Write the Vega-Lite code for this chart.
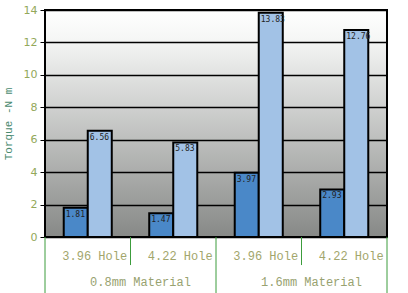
{
  "$schema": "https://vega.github.io/schema/vega-lite/v6.json",
  "width": 342,
  "height": 227,
  "autosize": {"type": "none"},
  "padding": {"left": 45, "top": 10, "right": 21, "bottom": 56},
  "background": "white",
  "view": {
    "fill": {"expr": "{gradient: 'linear', x1: 0, y1: 0, x2: 0, y2: 1, stops: [{offset: 0, color: '#ffffff'}, {offset: 0.12, color: '#f6f7f6'}, {offset: 1, color: '#878987'}]}"},
    "stroke": "black",
    "strokeWidth": 2
  },
  "config": {
    "axisY": {
      "values": [0, 2, 4, 6, 8, 10, 12, 14],
      "labelOverlap": false
    }
  },
  "datasets": {
    "bars": [
      {"g": "0.8mm Material|3.96 Hole", "s": "A", "v": 1.81},
      {"g": "0.8mm Material|3.96 Hole", "s": "B", "v": 6.56},
      {"g": "0.8mm Material|4.22 Hole", "s": "A", "v": 1.47},
      {"g": "0.8mm Material|4.22 Hole", "s": "B", "v": 5.83},
      {"g": "1.6mm Material|3.96 Hole", "s": "A", "v": 3.97},
      {"g": "1.6mm Material|3.96 Hole", "s": "B", "v": 13.83},
      {"g": "1.6mm Material|4.22 Hole", "s": "A", "v": 2.93},
      {"g": "1.6mm Material|4.22 Hole", "s": "B", "v": 12.76}
    ]
  },
  "layer": [
    {
      "data": {"name": "bars"},
      "mark": {"type": "bar", "stroke": "black", "strokeWidth": 2},
      "encoding": {
        "x": {
          "field": "g", "type": "nominal", "sort": null,
          "scale": {"paddingInner": 0, "paddingOuter": 0},
          "axis": {
            "title": null, "domain": false, "ticks": false, "grid": false,
            "labelAngle": 0, "labelPadding": 13, "labelOffset": 7,
            "labelExpr": "split(datum.label, '|')[1]",
            "labelFont": "Liberation Mono", "labelFontSize": 12, "labelColor": "#a2a66c"
          }
        },
        "xOffset": {"field": "s", "type": "nominal", "scale": {"paddingInner": 0, "paddingOuter": 0.78}},
        "y": {
          "field": "v", "type": "quantitative",
          "scale": {"domain": [0, 14], "nice": false},
          "axis": {
            "values": [0, 2, 4, 6, 8, 10, 12, 14],
            "labelOverlap": false,
            "title": "Torque -N m",
            "titleFont": "Liberation Mono", "titleFontSize": 11, "titleFontWeight": "normal",
            "titleColor": "#4a8a70", "titlePadding": 10,
            "labelFont": "DejaVu Sans", "labelFontSize": 11, "labelColor": "#93a85a", "labelPadding": 3,
            "tickColor": "black", "tickSize": 5, "domain": false,
            "grid": true, "gridColor": "black", "gridWidth": 1.5, "gridOpacity": 1
          }
        },
        "color": {
          "field": "s", "type": "nominal", "legend": null,
          "scale": {"domain": ["A", "B"], "range": ["#4a88c8", "#a2c2e6"]}
        }
      }
    },
    {
      "data": {"name": "bars"},
      "mark": {"type": "text", "align": "left", "baseline": "top", "dx": -10, "dy": 3, "font": "DejaVu Sans Mono", "fontSize": 8, "color": "#222222"},
      "encoding": {
        "x": {"field": "g", "type": "nominal", "sort": null},
        "xOffset": {"field": "s", "type": "nominal"},
        "y": {"field": "v", "type": "quantitative", "axis": {"values": [0, 2, 4, 6, 8, 10, 12, 14], "labelOverlap": false}},
        "text": {"field": "v", "type": "quantitative", "format": ".2f"}
      }
    },
    {
      "data": {"values": [{"g": "0.8mm Material|4.22 Hole", "m": "0.8mm Material"}, {"g": "1.6mm Material|4.22 Hole", "m": "1.6mm Material"}]},
      "mark": {"type": "text", "align": "center", "baseline": "middle", "dx": 10, "font": "Liberation Mono", "fontSize": 12, "color": "#98a270"},
      "encoding": {
        "x": {"field": "g", "type": "nominal", "sort": null, "bandPosition": 0},
        "y": {"datum": -2.78, "axis": {"values": [0, 2, 4, 6, 8, 10, 12, 14], "labelOverlap": false}},
        "text": {"field": "m"}
      }
    },
    {
      "data": {"values": [{"g": "0.8mm Material|3.96 Hole"}, {"g": "1.6mm Material|3.96 Hole"}]},
      "mark": {"type": "rule", "color": "#3c9c3c", "strokeWidth": 1},
      "encoding": {
        "x": {"field": "g", "type": "nominal", "sort": null, "bandPosition": 0},
        "y": {"datum": 0, "axis": {"values": [0, 2, 4, 6, 8, 10, 12, 14], "labelOverlap": false}},
        "y2": {"datum": -4}
      }
    },
    {
      "data": {"values": [{"g": "1.6mm Material|4.22 Hole"}]},
      "mark": {"type": "rule", "color": "#3c9c3c", "strokeWidth": 1},
      "encoding": {
        "x": {"field": "g", "type": "nominal", "sort": null, "bandPosition": 1},
        "y": {"datum": 0, "axis": {"values": [0, 2, 4, 6, 8, 10, 12, 14], "labelOverlap": false}},
        "y2": {"datum": -4}
      }
    },
    {
      "data": {"values": [{"g": "0.8mm Material|4.22 Hole"}, {"g": "1.6mm Material|4.22 Hole"}]},
      "mark": {"type": "rule", "color": "#3c9c3c", "strokeWidth": 1},
      "encoding": {
        "x": {"field": "g", "type": "nominal", "sort": null, "bandPosition": 0},
        "y": {"datum": 0, "axis": {"values": [0, 2, 4, 6, 8, 10, 12, 14], "labelOverlap": false}},
        "y2": {"datum": -1.73}
      }
    }
  ]
}
